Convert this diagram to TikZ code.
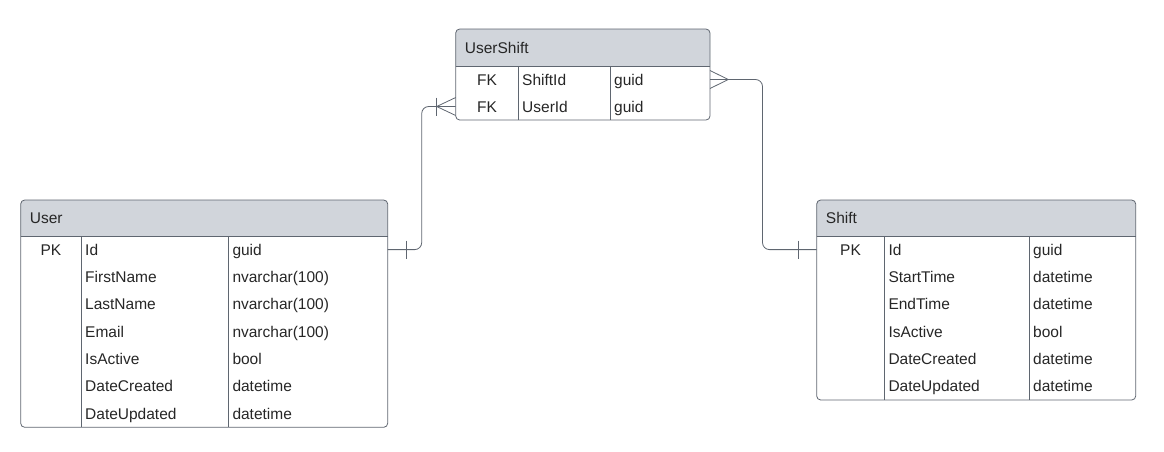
\documentclass[tikz,border=0pt]{standalone}
\usepackage{fontspec}
\setmainfont{Liberation Sans}
\definecolor{hdr}{HTML}{D1D5DB}
\definecolor{edge}{HTML}{5F6670}
\definecolor{txt}{HTML}{262626}
\newcommand\ertable[9]{%
  \begin{scope}
    \clip (#2,#4) rectangle (#3,#5);
    \fill[hdr, rounded corners=4pt] (#2,#4) rectangle (#3,#6);
  \end{scope}
  \draw[grid] (#2,#5) -- (#3,#5) (#7,#5) -- (#7,#6) (#8,#5) -- (#8,#6);
  \node[frame, inner sep=0, outer sep=0, anchor=north west,
        minimum width={#3pt-#2pt}, minimum height={#6pt-#4pt}] (#1) at (#2,#4) {};
  \node[lbl] (#1-title) at (#2+9, #4/2+#5/2+5.6) {#9};
}
\begin{document}
\begin{tikzpicture}[x=1pt,y=-1pt,
  lbl/.style={font=\fontsize{15.5}{18}\selectfont, text=txt, inner sep=0, anchor=base west},
  keylbl/.style={lbl, anchor=base},
  frame/.style={draw=edge, line width=0.8pt, rounded corners=4pt},
  grid/.style={draw=edge, line width=0.8pt},
  rel/.style={draw=edge, line width=0.8pt, rounded corners=7pt},
  endmark/.style={draw=edge, line width=0.8pt}]
\useasboundingbox (0,0) rectangle (1164,451);

% UserShift
\ertable{usershift}{455.7}{710}{29}{66}{120}{518.3}{610}{UserShift}
\foreach \k/\n/\t [count=\i from 0] in {FK/ShiftId/guid, FK/UserId/guid}{
  \node[keylbl] (usershift-k\i) at (487, 85.1+27*\i) {\k};
  \node[lbl] (usershift-n\i) at (522, 85.1+27*\i) {\n};
  \node[lbl] (usershift-t\i) at (614, 85.1+27*\i) {\t};
}

% User
\ertable{user}{20.7}{387.7}{200}{236}{427.3}{81}{228.3}{User}
\foreach \k/\n/\t [count=\i from 0] in {PK/Id/guid, /FirstName/nvarchar(100), /LastName/nvarchar(100), /Email/nvarchar(100), /IsActive/bool, /DateCreated/datetime, /DateUpdated/datetime}{
  \node[keylbl] (user-k\i) at (50.85, 255.3+27.3*\i) {\k};
  \node[lbl] (user-n\i) at (85, 255.3+27.3*\i) {\n};
  \node[lbl] (user-t\i) at (232.3, 255.3+27.3*\i) {\t};
}

% Shift
\ertable{shift}{816.7}{1135.7}{200}{236}{400}{884.3}{1029}{Shift}
\foreach \k/\n/\t [count=\i from 0] in {PK/Id/guid, /StartTime/datetime, /EndTime/datetime, /IsActive/bool, /DateCreated/datetime, /DateUpdated/datetime}{
  \node[keylbl] (shift-k\i) at (850.5, 255.3+27.3*\i) {\k};
  \node[lbl] (shift-n\i) at (888.3, 255.3+27.3*\i) {\n};
  \node[lbl] (shift-t\i) at (1033, 255.3+27.3*\i) {\t};
}

% connector end points
\coordinate (uid) at (387.7,249.6);
\coordinate (usuid) at (455.7,106.5);
\coordinate (ussid) at (710,79.5);
\coordinate (sid) at (816.7,249.6);
\coordinate (c1) at (421.7,0);
\coordinate (c2) at (762.5,0);

% User -- UserShift
\draw[rel] (uid) -| (c1 |- usuid) -- (usuid);
\draw[endmark] (uid) ++(18.3,-9) -- ++(0,18);
\draw[endmark] (usuid) ++(0,-9) -- ++(-19,9) -- ++(19,9);
\draw[endmark] (usuid) ++(-19,-9) -- ++(0,18);

% UserShift -- Shift
\draw[rel] (ussid) -| (c2 |- sid) -- (sid);
\draw[endmark] (ussid) ++(0,-9) -- ++(18.3,9) -- ++(-18.3,9);
\draw[endmark] (sid) ++(-18.4,-9) -- ++(0,18);
\end{tikzpicture}
\end{document}
